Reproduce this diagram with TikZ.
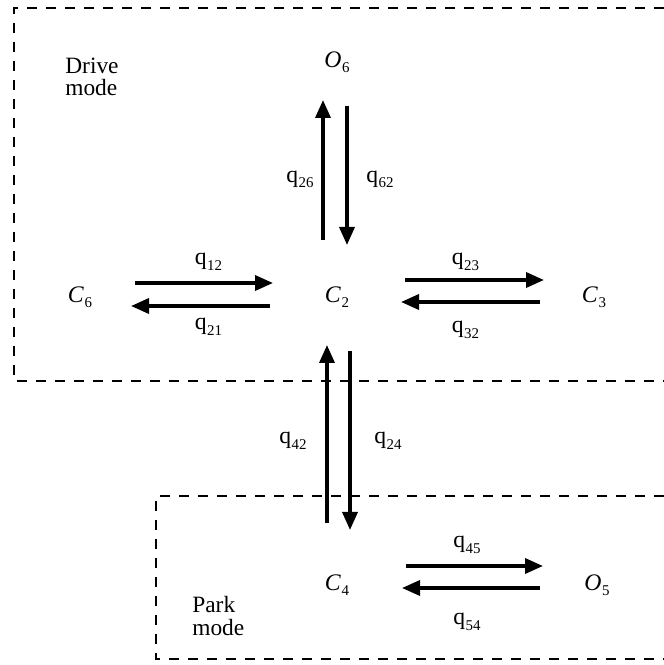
\documentclass[tikz,border=0pt]{standalone}
\usepackage{fontspec}
\setmainfont{Liberation Serif}
\usetikzlibrary{positioning}
\usetikzlibrary{arrows.meta}

% lowered index, as in q_{12}
\newcommand{\idx}[1]{\kern0.3pt\raisebox{-0.5ex}{\fontsize{8.5}{9}\selectfont #1}}

\begin{document}
\begin{tikzpicture}[state/.style = {inner sep=0pt, font=\fontsize{13.5}{15}\selectfont},
  trans/.style = {line width=2pt, -{Triangle[length=0.36cm, width=0.3cm]}},
  rate/.style = {midway, inner sep=0pt, font=\fontsize{13.5}{15}\selectfont},
  zone/.style = {line width=1.3pt, dash pattern=on 0.2cm off 0.18cm},
  mode/.style = {align=left, anchor=west, inner sep=0pt, font=\fontsize{13.3}{12.6}\selectfont},
  node distance=2cm, on grid]
\useasboundingbox (0,0) rectangle (13.28,13.30);
% mode boxes, open on the right
\draw[zone] (13.28,13.14) -- (0.28,13.14) -- (0.28,5.68) -- (13.28,5.68);
\draw[zone] (13.28,3.38) -- (3.12,3.38) -- (3.12,0.12) -- (13.28,0.12);
\node[mode] (drive) at (1.30,11.76) {Drive\\mode};
\node[mode] (park) at (3.84,0.98) {Park\\mode};
% states
\node[state] (c2) at (6.74,7.36) {\textit{C}\idx{2}};
\node[state] (o6) [above=4.7cm of c2] {\textit{O}\idx{6}};
\node[state] (c6) [left=5.14cm of c2] {\textit{C}\idx{6}};
\node[state] (c3) [right=5.14cm of c2] {\textit{C}\idx{3}};
\node[state] (c4) [below=5.76cm of c2] {\textit{C}\idx{4}};
\node[state] (o5) [right=5.2cm of c4] {\textit{O}\idx{5}};
% transitions
\draw[trans, shorten <=1.10cm, shorten >=1.28cm] ([yshift=0.28cm]c6.center) -- node[rate, yshift=0.42cm] {q\idx{12}} ([yshift=0.28cm]c2.center);
\draw[trans, shorten <=1.34cm, shorten >=1.02cm] ([yshift=-0.18cm]c2.center) -- node[rate, yshift=-0.42cm] {q\idx{21}} ([yshift=-0.18cm]c6.center);
\draw[trans, shorten <=1.36cm, shorten >=1.00cm] ([yshift=0.34cm]c2.center) -- node[rate, yshift=0.36cm] {q\idx{23}} ([yshift=0.34cm]c3.center);
\draw[trans, shorten <=1.08cm, shorten >=1.28cm] ([yshift=-0.10cm]c3.center) -- node[rate, yshift=-0.56cm] {q\idx{32}} ([yshift=-0.10cm]c2.center);
\draw[trans, shorten <=1.14cm, shorten >=0.76cm] ([xshift=-0.28cm]c2.center) -- node[rate, xshift=-0.46cm] {q\idx{26}} ([xshift=-0.28cm]o6.center);
\draw[trans, shorten <=0.88cm, shorten >=1.04cm] ([xshift=0.20cm]o6.center) -- node[rate, xshift=0.66cm] {q\idx{62}} ([xshift=0.20cm]c2.center);
\draw[trans, shorten <=1.24cm, shorten >=0.96cm] ([xshift=-0.20cm]c4.center) -- node[rate, xshift=-0.68cm] {q\idx{42}} ([xshift=-0.20cm]c2.center);
\draw[trans, shorten <=1.08cm, shorten >=1.10cm] ([xshift=0.26cm]c2.center) -- node[rate, xshift=0.76cm] {q\idx{24}} ([xshift=0.26cm]c4.center);
\draw[trans, shorten <=1.38cm, shorten >=1.08cm] ([yshift=0.38cm]c4.center) -- node[rate, yshift=0.42cm] {q\idx{45}} ([yshift=0.38cm]o5.center);
\draw[trans, shorten <=1.14cm, shorten >=1.30cm] ([yshift=-0.06cm]o5.center) -- node[rate, yshift=-0.68cm] {q\idx{54}} ([yshift=-0.06cm]c4.center);
\end{tikzpicture}
\end{document}
